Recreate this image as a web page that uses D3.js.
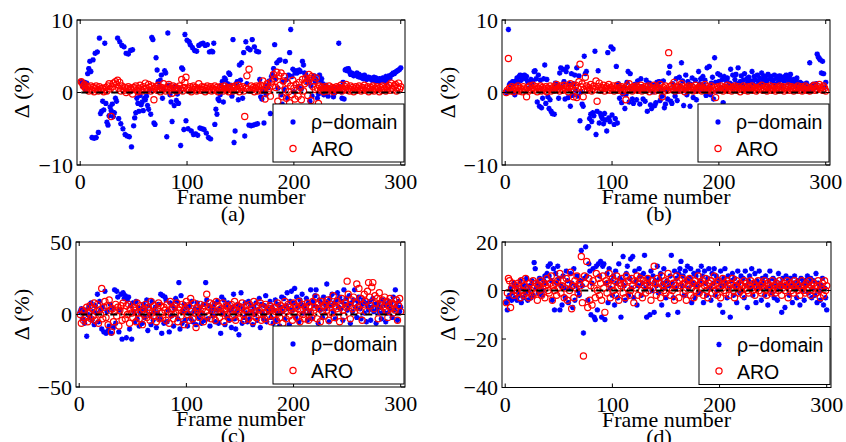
<!DOCTYPE html>
<html>
<head>
<meta charset="utf-8">
<script src="https://cdn.jsdelivr.net/npm/d3@7"></script>
<style>
body{margin:0;background:#fff;}
svg{display:block;}
.tl{font-family:"Liberation Serif","Times New Roman",serif;font-size:22px;fill:#000;}
.lg{font-family:"Liberation Sans",Arial,sans-serif;font-size:19.5px;fill:#000;}
</style>
</head>
<body>
<svg width="846" height="442"></svg>
<script>
// frame numbers 1..300
const frames = d3.range(1, 301);
const xTicks = [0, 100, 200, 300];
const seriesNames = ["\u03c1\u2212domain", "ARO"];

// (a)
const rhoA = [
1.5,1.2,0.8,1.4,0.5,1.3,2.6,3.3,4.3,2.9,
-6.2,4.5,-6.3,5.4,-6.2,5.6,-5.5,7.5,-2.9,-2.6,
-1.2,-2.4,6.8,-1.5,-4.1,-4.5,-3.2,-2.0,-2.5,-1.6,
-3.3,-2.8,-0.8,-1.2,7.5,-3.6,7.0,-4.3,6.5,-5.0,
6.3,-5.8,5.4,-6.0,5.3,-6.1,5.8,-7.5,5.9,-4.6,
-3.5,-2.8,-0.8,-1.5,-2.6,-0.4,-1.7,-1.3,-2.5,-0.8,
-1.0,-0.5,-1.8,-2.3,0.3,-3.0,7.6,7.3,-4.2,-4.4,
4.8,3.1,1.5,0.8,1.7,2.4,-0.8,0.4,3.0,2.7,
-6.1,8.2,1.0,-0.3,-1.3,-4.0,0.6,-1.8,0.9,-1.1,
-0.2,-1.5,0.5,-7.3,3.4,3.2,-5.1,8.0,-3.9,7.2,
-5.0,7.0,6.6,-5.3,6.2,-5.8,5.8,-5.7,5.7,-5.9,
6.5,-4.9,6.7,-5.0,6.8,-5.1,6.5,-5.6,6.6,-6.2,
5.6,-6.4,5.7,5.6,6.8,-4.4,-2.3,-3.0,-0.9,-1.1,
-0.3,0.9,1.5,-1.3,2.0,1.8,0.6,1.2,2.7,2.5,
1.0,-0.5,7.3,-6.9,-5.3,1.2,1.5,-1.0,3.8,1.7,
4.1,-0.8,5.5,-6.0,7.0,1.2,6.1,-4.5,5.9,-4.6,
7.3,-4.5,6.3,-4.4,5.7,-4.3,5.6,1.8,-0.6,-0.9,
0.2,-4.2,0.5,-0.3,1.0,0.7,1.6,-2.9,2.2,2.5,
3.3,6.6,1.9,4.1,0.6,4.4,4.5,-0.3,-1.6,1.5,
0.4,4.3,1.8,-0.8,2.4,5.5,8.7,2.2,3.2,0.1,
2.7,3.0,2.7,0.8,3.1,2.9,0.5,4.3,3.8,2.7,
2.5,2.1,1.3,1.6,-1.2,0.9,-0.5,2.0,2.3,1.5,
1.8,-0.8,-0.2,2.4,1.6,1.9,1.2,-0.3,0.9,1.0,
0.6,-0.5,0.4,0.3,0.2,0.6,-0.6,-0.1,0.1,0.3,
0.5,6.8,0.8,0.1,-0.8,1.4,-0.9,3.1,3.2,3.0,
3.3,2.9,2.5,2.7,2.6,2.3,2.4,2.5,2.7,2.2,
2.5,2.1,2.3,2.0,1.9,2.4,2.2,1.8,1.9,2.1,
1.9,2.0,1.7,1.8,2.1,1.6,2.0,1.8,1.5,1.9,
1.7,1.8,2.0,1.6,1.5,2.2,1.4,1.9,2.3,2.0,
2.4,2.5,2.7,2.6,2.8,2.9,3.0,3.1,3.2,3.4];
const aroA = [
1.5,1.3,0.9,1.1,0.6,0.4,0.8,0.2,0.5,0.9,
0.3,0.7,0.1,0.6,0.9,0.4,0.2,0.8,0.5,0.3,
0.6,0.1,0.4,0.7,0.2,0.9,1.2,0.5,-3.3,0.8,
1.3,0.4,1.5,1.1,1.7,0.6,1.4,0.2,0.9,0.5,
0.3,0.7,0.0,0.5,0.8,0.2,0.6,0.4,-0.2,0.7,
0.5,0.9,0.3,0.1,0.6,1.0,0.4,0.2,0.8,0.5,
1.3,0.6,0.3,1.1,0.7,0.2,0.9,0.4,-1.0,0.6,
0.8,0.3,1.0,0.5,0.1,0.7,0.4,1.2,0.6,0.2,
0.5,0.8,1.1,0.3,0.6,-0.1,0.9,0.4,0.7,0.2,
0.6,0.3,0.9,0.5,1.8,0.2,0.7,1.4,2.1,0.4,
0.6,0.3,0.8,0.1,0.5,0.9,0.4,0.7,0.2,0.6,
1.2,0.5,0.3,0.8,0.4,0.7,0.1,0.6,0.9,0.3,
0.5,0.8,0.2,0.6,0.4,0.9,0.3,0.7,0.1,0.5,
0.8,0.4,0.6,0.2,0.9,0.5,0.3,0.7,0.1,0.6,
0.4,0.8,0.2,0.6,0.9,0.3,0.5,1.0,0.1,0.7,
0.4,0.8,0.2,-3.3,0.6,2.3,0.5,3.2,0.3,0.9,
0.4,0.7,0.1,0.6,0.9,0.2,0.8,0.5,1.0,0.3,
1.6,0.4,-0.9,0.8,1.2,0.2,0.6,-0.5,1.5,0.9,
2.5,1.9,0.7,2.8,-1.2,2.3,1.0,2.7,-0.6,1.6,
2.2,0.4,-0.8,1.3,0.1,-1.4,0.9,-0.3,1.7,0.6,
-0.9,1.1,0.3,-0.5,1.4,0.7,-1.0,1.8,0.2,1.2,
2.0,1.5,-0.4,2.5,1.9,-1.1,2.2,0.8,1.6,0.4,
2.0,0.6,-1.5,0.9,0.3,0.7,0.5,0.1,0.8,0.4,
0.6,0.2,0.9,0.5,0.3,0.7,0.1,0.6,0.4,0.8,
0.3,0.7,0.5,1.0,0.2,0.6,0.4,0.8,1.1,0.3,
0.6,0.2,0.9,0.4,0.7,0.1,0.5,0.8,0.3,0.6,
0.9,0.4,0.2,0.7,0.5,1.0,0.3,0.6,0.8,0.1,
0.5,0.7,0.3,0.9,0.2,0.6,0.4,0.8,0.5,0.1,
0.7,0.3,0.9,0.4,0.6,0.2,0.8,0.5,1.0,0.3,
1.3,0.6,0.4,0.9,1.1,0.2,0.7,1.3,0.5,0.8];

// (b)
const rhoB = [
0.0,0.2,8.7,1.1,1.3,0.4,1.5,1.2,-0.3,1.6,
2.0,1.4,2.2,2.4,1.7,2.3,2.1,2.4,1.9,2.2,
1.5,0.6,1.3,1.8,1.1,1.6,2.9,3.0,1.9,-1.3,
2.4,-1.9,1.7,-2.1,-0.8,1.9,3.8,-1.5,1.8,-0.6,
-2.2,-1.0,-2.6,-2.9,0.5,-3.0,1.3,1.0,0.7,-0.8,
2.7,3.4,0.8,3.2,1.5,-0.9,2.9,3.5,-0.7,1.2,
-1.9,2.6,-0.4,1.2,2.4,0.3,3.4,-0.5,2.3,-3.9,
0.1,-1.6,-1.9,5.0,2.6,2.9,-4.9,-4.7,-3.6,-3.0,
-4.0,-2.8,-3.2,5.7,-5.8,-2.6,3.0,-4.2,-2.9,-3.3,
-3.6,-4.3,-2.9,-3.8,-5.3,5.5,-3.5,-4.0,6.3,-3.1,
6.0,-4.4,-3.6,3.6,-4.2,1.2,-0.8,0.5,-1.4,-0.2,
0.7,-2.2,-0.3,1.4,2.9,-1.3,2.6,0.5,-0.9,-1.5,
1.1,0.3,-1.0,1.6,0.2,-1.6,1.9,0.8,-0.9,0.4,
-1.2,1.7,-2.6,0.6,1.3,-1.7,-2.2,0.1,1.0,-1.8,
-1.4,1.4,0.9,1.5,-1.1,0.3,-0.5,1.6,-2.1,-1.6,
0.4,-0.9,2.7,3.6,-1.2,-1.5,1.2,0.7,-0.5,1.9,
-1.1,0.2,2.1,0.9,4.1,1.6,-1.8,0.4,2.4,-0.3,
1.5,0.8,-1.9,1.1,2.0,-0.7,0.2,1.7,-1.0,0.5,
2.9,1.2,1.9,0.3,2.2,1.0,1.7,-0.4,3.4,0.6,
3.6,-0.3,1.3,2.1,-0.9,4.8,1.4,0.2,2.6,1.5,
2.4,0.7,1.8,-1.4,2.2,0.4,1.6,2.0,0.9,1.3,
3.2,1.1,2.4,0.6,1.8,2.5,1.2,3.4,0.8,1.5,
2.3,1.0,1.7,2.6,0.4,1.9,1.4,2.1,0.7,1.6,
2.9,1.2,2.2,1.8,0.9,2.4,1.5,2.0,1.1,2.7,
1.8,2.3,1.3,2.0,1.6,2.5,0.8,1.9,2.2,1.4,
1.7,2.4,1.1,2.0,2.2,1.5,2.3,1.8,0.9,2.1,
1.6,2.2,2.4,1.9,1.3,2.0,2.5,1.7,1.2,1.8,
0.9,1.5,2.0,1.1,0.6,1.4,0.8,1.2,0.3,1.0,
0.5,1.3,0.7,0.2,4.1,0.9,0.4,1.1,0.6,0.8,
1.2,5.3,4.9,4.7,4.5,2.7,4.3,2.6,0.7,1.4];
const aroB = [
0.0,0.3,4.7,0.6,0.2,0.8,0.4,0.1,0.7,0.5,
0.3,0.9,0.2,0.6,0.4,0.1,0.8,0.5,0.3,-0.6,
0.7,0.2,0.9,0.4,0.6,1.0,0.3,0.5,0.8,0.1,
0.6,0.4,0.9,0.2,0.7,0.5,0.3,0.8,0.1,0.6,
0.4,0.9,0.2,0.5,0.7,0.3,0.8,1.1,0.4,0.6,
0.2,0.9,0.5,0.3,1.0,0.6,0.4,0.8,0.1,0.7,
1.2,0.5,0.9,-0.6,0.3,1.0,-0.7,0.6,1.5,3.9,
0.8,1.2,-0.6,0.4,2.1,0.9,0.3,0.7,0.5,1.1,
0.2,0.6,0.9,0.4,1.6,-1.2,0.8,1.3,0.3,0.7,
0.5,1.0,0.2,0.6,0.8,0.4,1.1,0.3,0.7,0.5,
0.9,0.2,0.6,0.4,1.0,0.3,0.7,0.5,0.8,0.1,
0.6,0.4,-1.0,0.9,0.3,1.2,0.5,0.7,0.2,0.8,
0.4,0.6,0.9,0.3,0.7,0.5,1.0,0.2,0.6,0.4,
0.8,0.3,0.5,0.9,0.1,0.7,0.4,0.6,1.0,0.2,
0.5,0.8,0.3,0.6,1.1,0.4,-0.6,0.7,0.2,0.9,
0.5,0.3,5.5,0.8,0.4,1.0,0.6,1.4,0.2,0.7,
0.5,0.9,0.3,0.6,1.2,0.4,0.8,0.1,0.5,0.7,
0.3,0.9,0.6,0.4,0.8,0.2,0.5,1.0,0.3,0.6,
0.7,0.4,0.9,0.2,0.6,0.5,1.1,0.3,0.8,0.4,
0.6,0.2,0.9,0.5,0.3,0.7,-0.7,0.4,0.8,0.6,
0.3,0.9,0.5,0.2,0.7,0.4,0.6,1.0,0.3,0.8,
0.5,0.2,0.7,0.4,0.9,0.6,0.3,0.8,0.5,0.1,
0.6,0.4,0.9,0.3,0.7,0.5,0.2,0.8,0.6,0.4,
0.9,0.3,0.5,0.7,0.2,0.6,0.4,0.8,0.5,1.0,
0.3,0.6,0.4,0.8,0.2,0.7,0.5,0.9,0.3,0.6,
0.4,0.8,0.2,0.5,0.7,0.3,0.9,0.6,0.4,0.8,
0.2,0.5,0.7,0.4,0.9,0.3,0.6,0.8,0.5,0.2,
0.7,0.4,0.6,0.9,0.3,0.5,0.8,0.2,0.6,0.4,
0.9,0.3,0.7,0.5,0.2,0.6,0.4,0.8,1.0,0.3,
0.6,0.4,0.8,1.1,0.5,0.7,0.3,0.9,0.6,0.2];

// (c)
const rhoC = [
2,4,-3,1,-6,3,-15,0,5,-2,
8,-4,2,-7,6,1,14,-5,9,3,
-10,5,-12,16,-13,2,-11,-8,7,-13,
4,-9,17,-6,16,12,-12,3,14,-17,
15,11,13,-16,10,12,-10,6,-17,8,
2,-5,9,-3,5,-8,1,4,-6,7,
-2,3,10,-11,6,0,-7,9,-4,2,
5,-9,1,7,-3,14,-13,13,-6,12,
10,-5,3,-12,8,-1,6,-8,4,11,
9,-3,22,-10,13,-6,2,7,-4,5,
-8,1,6,-3,9,-5,2,4,-7,8,
3,-2,5,-6,1,7,-4,22,10,-3,
6,-8,2,4,-1,7,-5,3,9,-6,
4,-13,12,1,10,-7,6,-2,8,-4,
3,-9,5,14,-3,-10,2,7,-14,6,
15,-6,4,-2,8,1,-5,9,-3,6,
2,-7,5,0,8,-4,3,11,-9,7,
1,-3,6,13,-5,4,2,9,-2,5,
-6,3,10,-4,7,1,-8,5,12,2,
11,-3,6,15,4,-7,9,16,3,8,
18,-2,12,5,-5,10,7,14,1,6,
4,11,-4,8,2,17,-3,9,6,13,
17,5,-6,10,3,8,-2,12,7,4,
21,9,-5,11,6,14,2,8,-3,10,
15,5,12,4,9,-4,17,7,11,3,
6,13,-6,8,2,10,17,5,-2,9,
12,4,-3,7,10,1,8,-5,6,3,
9,-4,5,11,2,7,-6,4,8,1,
5,-3,10,2,7,-5,6,1,9,4,
8,-2,12,3,17,6,-4,9,2,5];
const aroC = [
0,-6,3,-4,2,-2,5,-5,1,6,
-3,4,-1,8,-4,2,7,-6,3,0,
18,-3,5,9,-2,6,-7,10,3,-12,
4,-5,2,7,-1,5,-8,3,6,-4,
8,2,-3,6,0,7,-6,4,1,-2,
5,3,-5,8,1,-3,6,2,-7,4,
0,7,-2,5,3,-4,9,1,-1,6,
2,-5,4,8,-3,6,1,-2,5,3,
-4,7,2,-6,9,0,4,-3,6,1,
8,-5,3,5,-1,7,2,-7,4,9,
0,6,-4,11,2,-3,8,1,-9,5,
3,-2,7,0,4,-5,6,2,14,-1,
5,8,-3,3,7,1,-4,9,2,6,
-2,4,1,8,-5,3,6,0,5,-3,
2,7,-1,4,9,-4,3,6,1,-2,
5,8,0,-4,3,6,2,-3,7,1,
4,-5,9,2,-2,6,0,3,8,-4,
5,1,-3,7,2,-1,4,6,-5,3,
0,5,2,-4,8,1,-2,6,3,-6,
4,9,-3,2,7,-1,5,3,-4,8,
1,6,-2,4,9,-5,3,7,0,-3,
5,2,8,-4,6,1,-2,9,3,5,
12,-3,7,4,-5,9,2,6,-1,8,
3,10,-4,5,7,1,13,-2,6,4,
9,2,-5,7,11,3,-1,8,5,23,
14,6,-3,10,4,12,2,8,21,5,
18,3,11,-4,7,14,9,2,16,22,
12,6,19,22,4,13,8,11,-3,15,
7,2,10,5,12,3,9,-2,6,11,
4,8,1,7,3,10,-4,6,11,2];

// (d)
const rhoD = [
-5,-8,-3,-2,1,-4,-1,3,-3,2,
-4,0,-2,4,-5,1,-3,2,-1,5,
-4,0,2,-3,4,-2,11.5,9,1,3,
-1,5,2,-2,0,4,6,3,7,10,
6,11,4,-4,9,-8,7,3,10,5,
-8,2,-6,6,1,-3,8,4,-5,1,
7,3,-7,9,-4,2,6,0,-2,4,
16.5,2,-17.5,5,18,6,-4,11,8,-10,
3,9,-11,-12,10,-8,11,6,12,-11,
10,11,-12,3,7,-5,9,1,4,-2,
6,-6,8,3,-3,11,5,-11,4,14,
2,-4,7,10,-2,5,13,1,14,-3,
8,4,-6,2,9,6,-2,3,7,14.5,
1,-11,5,3,-10,8,0,6,-9,4,
2,10,-1,5,7,-6,3,9,1,-3,
4,-10,2,6,14.5,3,-3,8,1,5,
-9,7,9,12,2,6,-2,8,4,10,
1,5,9,-5,3,7,-3,6,2,8,
-1,4,10,6,-5,8,3,-2,5,9,
1,-4,7,3,9,-2,6,0,4,-6,
8,2,-9,5,9,3,-3,6,1,-11,
4,7,-2,5,2,-5,8,3,-1,6,
0,5,-3,8,2,-7,4,6,1,9,
-2,3,7,-5,4,1,8,2,-4,5,
3,-2,6,1,-6,4,8,2,-1,5,
-3,4,2,-4,7,1,3,-9,5,2,
-7,6,1,4,-2,5,2,-5,3,6,
1,-3,4,2,-6,5,0,3,-4,4,
2,6,-1,3,5,-3,1,4,-2,7,
-5,3,0,-4,2,5,-6,1,-3,-8];
const aroD = [
-5,-1,5,4,-7,1,3,-2,0,2,
-1,3,1,-3,4,0,-2,2,5,-1,
1,-3,3,0,-2,4,1,-1,3,-4,
2,0,4,-2,1,3,-3,2,5,0,
-1,3,6,-4,2,0,3,-2,4,1,
7,-1,2,4,-3,1,5,-4,3,0,
7.5,-7.5,2,-3,4,1,6,-1,3,2,
14,-5,-27,6,3,12,-7,5,-4,2,
-6,4,1,-3,7,0,5,-2,3,-4,
6,1,-9,4,-1,3,7,-3,2,5,
0,4,-2,6,1,-4,3,2,5,-1,
3,-3,6,1,4,-2,0,5,2,-5,
4,1,6,-2,3,5,0,-3,4,2,
-1,3,5,0,2,-4,4,1,10,3,
-2,5,1,3,-3,6,2,0,4,-1,
3,7,1,-2,5,0,3,-4,2,6,
1,-3,4,2,5,-1,3,0,-4,4,
2,5,-2,1,3,-3,4,0,2,6,
-1,3,1,4,-2,2,5,0,-3,3,
1,4,-1,2,6,0,3,-2,4,1,
-3,2,5,0,3,-1,4,2,-2,3,
1,5,0,-3,2,4,1,-1,3,0,
2,-2,4,1,3,0,-1,2,4,1,
0,3,-2,2,1,4,0,2,-1,3,
1,4,0,-2,3,1,2,-1,4,0,
2,-1,3,1,0,4,2,-2,1,3,
0,2,4,-3,1,3,0,2,-1,4,
1,3,0,2,-2,1,4,0,2,-1,
3,0,1,4,-2,2,0,3,1,-1,
2,4,0,-3,1,3,-2,4,0,2];

const panels = [
  {tag: "(a)", rho: rhoA, aro: aroA, yDomain: [-10, 10], yTicks: [-10, 0, 10],
   left: 77, right: 405, top: 20, bottom: 165, ylabX: 29, tagX: 233},
  {tag: "(b)", rho: rhoB, aro: aroB, yDomain: [-10, 10], yTicks: [-10, 0, 10],
   left: 502, right: 830, top: 20, bottom: 165, ylabX: 455, tagX: 659},
  {tag: "(c)", rho: rhoC, aro: aroC, yDomain: [-50, 50], yTicks: [-50, 0, 50],
   left: 76, right: 405, top: 242, bottom: 387, ylabX: 29, tagX: 233},
  {tag: "(d)", rho: rhoD, aro: aroD, yDomain: [-40, 20], yTicks: [-40, -20, 0, 20],
   left: 502, right: 831, top: 242, bottom: 387.5, ylabX: 455, tagX: 659}
];

const svg = d3.select("svg");
const fmt = d => d < 0 ? "\u2212" + Math.abs(d) : String(d);
const tickLen = 4;

// matlab style '*' marker
function starPath(r){
  const k = r * 0.72;
  return `M${-r},0L${r},0M0,${-r}L0,${r}M${-k},${-k}L${k},${k}M${-k},${k}L${k},${-k}`;
}
const star = starPath(2.7);

panels.forEach(p => {
  const g = svg.append("g");
  const x = d3.scaleLinear().domain([-3, 304]).range([p.left, p.right]);
  const y = d3.scaleLinear().domain(p.yDomain).range([p.bottom, p.top]);

  // points
  g.append("g").selectAll("path")
    .data(frames)
    .join("path")
    .attr("d", star)
    .attr("transform", (f, i) => `translate(${x(f)},${y(p.rho[i])})`)
    .attr("stroke", "#0000ff")
    .attr("stroke-width", 1.6)
    .attr("fill", "none");

  g.append("g").selectAll("circle")
    .data(frames)
    .join("circle")
    .attr("cx", f => x(f))
    .attr("cy", (f, i) => y(p.aro[i]))
    .attr("r", 3.1)
    .attr("stroke", "#ff0000")
    .attr("stroke-width", 1.2)
    .attr("fill", "none");

  // zero reference line
  g.append("line")
    .attr("x1", x(frames[0])).attr("x2", x(300))
    .attr("y1", y(0)).attr("y2", y(0))
    .attr("stroke", "#000")
    .attr("stroke-width", 2)
    .attr("stroke-dasharray", "7,3,2,3");

  // box
  g.append("rect")
    .attr("x", p.left).attr("y", p.top)
    .attr("width", p.right - p.left).attr("height", p.bottom - p.top)
    .attr("fill", "none").attr("stroke", "#000").attr("stroke-width", 1);

  // ticks inside, mirrored
  xTicks.forEach(t => {
    g.append("line").attr("x1", x(t)).attr("x2", x(t)).attr("y1", p.bottom).attr("y2", p.bottom - tickLen).attr("stroke", "#000");
    g.append("line").attr("x1", x(t)).attr("x2", x(t)).attr("y1", p.top).attr("y2", p.top + tickLen).attr("stroke", "#000");
    g.append("text").attr("class", "tl")
      .attr("x", x(t)).attr("y", p.bottom + 24)
      .attr("text-anchor", "middle").text(fmt(t));
  });
  p.yTicks.forEach(t => {
    g.append("line").attr("x1", p.left).attr("x2", p.left + tickLen).attr("y1", y(t)).attr("y2", y(t)).attr("stroke", "#000");
    g.append("line").attr("x1", p.right).attr("x2", p.right - tickLen).attr("y1", y(t)).attr("y2", y(t)).attr("stroke", "#000");
    g.append("text").attr("class", "tl")
      .attr("x", p.left - 4).attr("y", y(t)).attr("dy", "0.35em")
      .attr("text-anchor", "end").text(fmt(t));
  });

  // axis labels
  const midX = (p.left + p.right) / 2;
  g.append("text").attr("class", "tl")
    .attr("transform", `translate(${p.ylabX},${(p.top + p.bottom) / 2}) rotate(-90)`)
    .attr("text-anchor", "middle").text("\u0394 (%)");
  g.append("text").attr("class", "tl")
    .attr("x", p.tagX).attr("y", p.bottom + 56)
    .attr("text-anchor", "middle").text(p.tag);
  g.append("text").attr("class", "tl")
    .attr("x", midX).attr("y", p.bottom + 39)
    .attr("text-anchor", "middle").text("Frame number");

  // legend
  const lx = p.right - 132, ly = p.bottom - 61;
  const lg = g.append("g").attr("transform", `translate(${lx},${ly})`);
  lg.append("rect").attr("width", 131).attr("height", 58)
    .attr("fill", "#fff").attr("stroke", "#000").attr("stroke-width", 1);
  lg.append("path").attr("d", star).attr("transform", "translate(20,18)")
    .attr("stroke", "#0000ff").attr("stroke-width", 1.6).attr("fill", "none");
  lg.append("circle").attr("cx", 20).attr("cy", 44.5).attr("r", 3.1)
    .attr("stroke", "#ff0000").attr("stroke-width", 1.2).attr("fill", "none");
  lg.append("text").attr("class", "lg").attr("x", 38).attr("y", 25).text(seriesNames[0]);
  lg.append("text").attr("class", "lg").attr("x", 38).attr("y", 52).text(seriesNames[1]);
});
</script>
</body>
</html>
